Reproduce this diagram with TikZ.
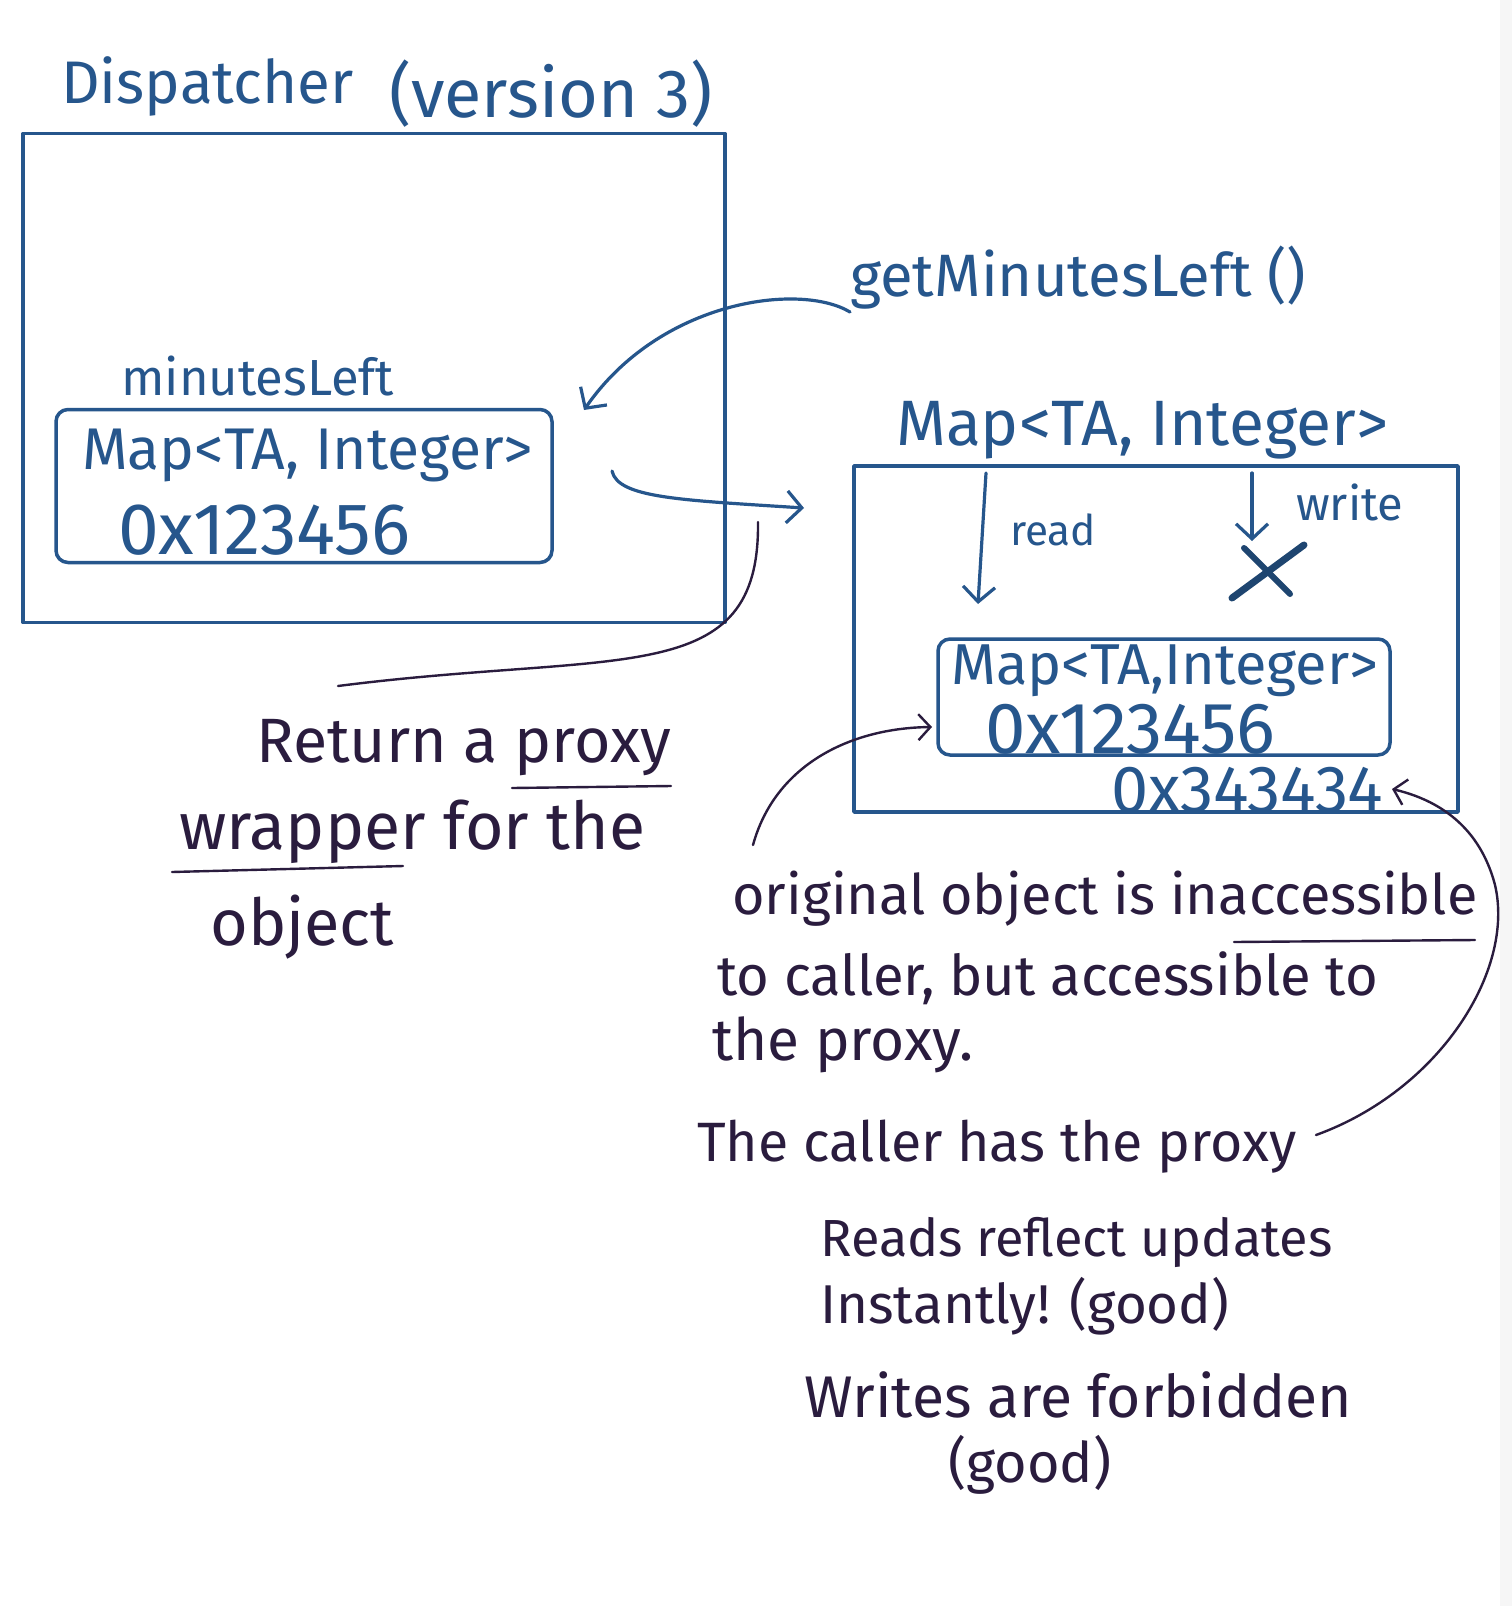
\documentclass[tikz,border=0pt]{standalone}
\usepackage{fontspec}
\usepackage{graphicx}
\setmainfont{Fira Sans}
\usetikzlibrary{arrows.meta}
\definecolor{ink}{HTML}{26568C}
\definecolor{pen}{HTML}{2A1C3E}
\newcommand{\fitw}[2]{\resizebox{#1pt}{!}{#2}}
\begin{document}
\begin{tikzpicture}[x=1pt,y=-1pt,line cap=round,line join=round,
  bluebox/.style={draw=ink,line width=3.5pt,inner sep=0pt},
  bluearrow/.style={draw=ink,line width=3.2pt,-{Straight Barb[length=15pt,width=32pt,line width=3.2pt]}},
  penarrow/.style={draw=pen,line width=2.4pt,-{Straight Barb[length=12pt,width=26pt,line width=2.4pt]}},
  penline/.style={draw=pen,line width=2.4pt},
  txt/.style={inner sep=0pt,anchor=west,text=ink},
  ptxt/.style={inner sep=0pt,anchor=west,text=pen}]
\useasboundingbox (0,0) rectangle (1512,1606);
\fill[white] (0,0) rectangle (1512,1606);
\fill[gray!7] (1500,0) rectangle (1512,1606);

% title
\node[txt,anchor=base west] (t1) at (61,103) {\fitw{292}{Dispatcher}};
\node[txt] (t2) at (389,94) {\fitw{323}{(version 3)}};

% Dispatcher box
\node[bluebox,minimum width=702pt,minimum height=489pt] (disp) at (374,378) {};
\node[txt] (mL) at (121,376) {\fitw{273}{minutesLeft}};
\node[bluebox,rounded corners=12pt,minimum width=496pt,minimum height=153pt] (lbox) at (304,486) {};
\node[txt] (lm) at (82,456) {\fitw{451}{Map<TA, Integer>}};
\node[txt] (la) at (118,530) {\fitw{292}{0x123456}};

% getMinutesLeft
\node[txt] (gm) at (850,278) {\fitw{456}{getMinutesLeft ()}};

% proxy box
\node[txt] (rm) at (896,430) {\fitw{492}{Map<TA, Integer>}};
\node[bluebox,minimum width=604pt,minimum height=346pt] (rbox) at (1156,639) {};
\node[txt] (rd) at (1010,530) {\fitw{86}{read}};
\node[txt] (wr) at (1296,502) {\fitw{107}{write}};
\node[bluebox,rounded corners=12pt,minimum width=452pt,minimum height=116pt] (ibox) at (1164,697) {};
\node[txt] (im) at (951,671) {\fitw{427}{Map<TA,Integer>}};
\node[txt] (ia) at (985,729) {\fitw{290}{0x123456}};
\node[txt] (oa) at (1111,790) {\fitw{272}{0x343434}};

% read / write arrows
\coordinate (rdS) at (986,473);
\coordinate (rdE) at (978,604);
\coordinate (wrS) at (1252,473);
\coordinate (wrE) at (1252,541);
\draw[bluearrow] (rdS) -- (rdE);
\draw[bluearrow] (wrS) -- (wrE);
\draw[draw=ink!80!black,line width=7pt] (1232,598) -- (1304,545);
\draw[draw=ink!80!black,line width=6pt] (1244,548) -- (1290,594);

% arrows between boxes
\coordinate (a1s) at (850,312);
\coordinate (a1e) at (584,410);
\draw[bluearrow] (a1s) .. controls (800,282) and (660,300) .. (a1e);
\coordinate (a2s) at (612,471);
\coordinate (a2e) at (804,508);
\draw[bluearrow] (a2s) .. controls (618,498) and (680,500) .. (a2e);

% left notes
\node[ptxt] (r1) at (256,748) {\fitw{415}{Return a proxy}};
\node[ptxt] (r2) at (179,832) {\fitw{466}{wrapper for the}};
\node[ptxt] (r3) at (210,927) {\fitw{184}{object}};
\draw[penline] (512,788) -- (671,786);
\draw[penline] (172,872) -- (403,866);
\coordinate (retS) at (338,686);
\coordinate (retE) at (758,522);
\draw[penline] (retS) .. controls (620,650) and (760,690) .. (retE);

% right notes
\node[ptxt] (o1) at (732,899) {\fitw{745}{original object is inaccessible}};
\node[ptxt] (o2) at (717,978) {\fitw{661}{to caller, but accessible to}};
\node[ptxt] (o3) at (712,1045) {\fitw{261}{the proxy.}};
\draw[penline] (1234,942) -- (1475,940);
\node[ptxt] (c1) at (697,1147) {\fitw{599}{The caller has the proxy}};
\node[ptxt] (g1) at (820,1242) {\fitw{512}{Reads reflect updates}};
\node[ptxt] (g2) at (820,1306) {\fitw{409}{Instantly! (good)}};
\node[ptxt] (w1) at (804,1395) {\fitw{548}{Writes are forbidden}};
\node[ptxt] (w2) at (948,1465) {\fitw{163}{(good)}};

\coordinate (orS) at (753,845);
\coordinate (orE) at (932,727);
\draw[penarrow] (orS) .. controls (775,765) and (850,728) .. (orE);
\coordinate (caS) at (1316,1135);
\coordinate (caM) at (1495,885);
\coordinate (caE) at (1392,789);
\draw[penarrow] (caS) .. controls (1440,1090) and (1515,970) .. (caM) .. controls (1478,820) and (1430,798) .. (caE);
\end{tikzpicture}
\end{document}
